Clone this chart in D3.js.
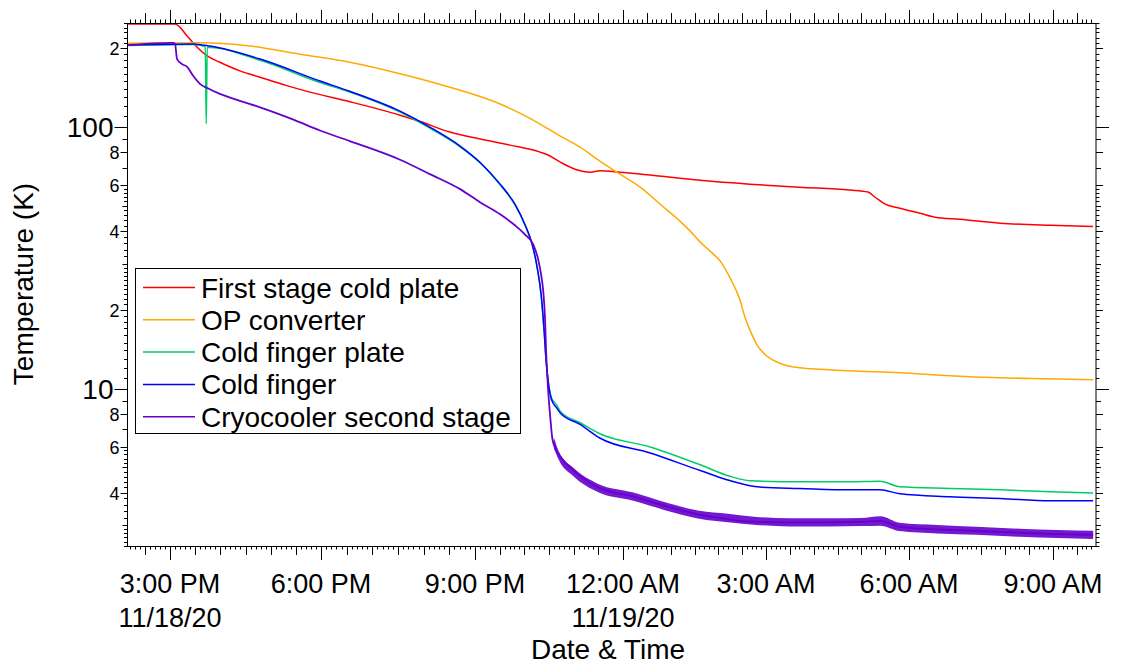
<!DOCTYPE html>
<html>
<head>
<meta charset="utf-8">
<script src="https://cdn.jsdelivr.net/npm/d3@7"></script>
<style>
  body { margin: 0; background: #fff; }
  svg { display: block; }
  text { font-family: "Liberation Sans", Arial, sans-serif; fill: #000; }
</style>
</head>
<body>
<svg id="chart" width="1138" height="664"></svg>
<script>
// ---- Data: time in hours since 00:00 on 11/18/20, temperature in kelvin ----
const seriesNames = ["First stage cold plate", "OP converter", "Cold finger plate", "Cold finger", "Cryocooler second stage"];
const seriesColors = ["#ff0000", "#ffaa00", "#00cc66", "#0000ff", "#6600cc"];

const redHours = [14.17, 15.1, 15.34, 15.54, 15.74, 15.99, 16.39, 16.79, 17.32, 17.78, 18.56, 19.54, 19.93, 20.51, 21.1, 21.71, 22.32, 22.49, 22.73, 23.03, 23.34, 23.53, 23.94, 24.57, 25.62, 26.66, 27.71, 28.76, 29.14, 29.29, 29.5, 29.81, 30.23, 30.54, 31.06, 31.9, 32.94, 33.84];
const redKelvin = [248, 248, 223, 202, 187, 177, 164, 155, 144, 136, 125, 111, 105, 95.7, 90, 85.3, 80.2, 78, 73.4, 69, 67.2, 68, 67.2, 65.5, 62.6, 60.5, 58.9, 57.4, 56.4, 53.9, 50.7, 48.9, 46.8, 45.2, 44.4, 42.9, 42.1, 41.7];

const orangeHours = [14.17, 15.6, 16.59, 17.58, 18.56, 19.54, 20.51, 21.51, 21.91, 22.32, 22.73, 23.13, 23.53, 23.94, 24.36, 24.78, 25.2, 25.41, 25.62, 25.83, 26.04, 26.24, 26.45, 26.56, 26.66, 26.81, 26.98, 27.29, 27.71, 28.76, 29.81, 30.85, 31.9, 32.94, 33.84];
const orangeKelvin = [209, 210, 204, 190, 177, 160, 142, 122.5, 113, 102.7, 92.4, 83.8, 74.1, 66.1, 58.9, 50.7, 43.6, 40, 36.3, 33.5, 30.7, 26.6, 21.9, 18.7, 16.8, 14.7, 13.5, 12.5, 12.0, 11.7, 11.5, 11.2, 11.0, 10.9, 10.8];

const greenHours = [14.17, 15.46, 15.7, 15.72, 15.74, 16.79, 17.98, 18.56, 19.54, 20.12, 20.71, 21.1, 21.51, 21.81, 22.01, 22.16, 22.26, 22.34, 22.4, 22.44, 22.49, 22.55, 22.65, 22.73, 23.13, 23.53, 24.57, 25.62, 26.24, 26.66, 27.71, 28.76, 29.39, 29.81, 30.85, 31.9, 32.94, 33.84];
const greenKelvin = [205, 207, 203, 103, 202, 180, 148, 136, 114, 99, 84, 73, 60, 50.4, 42.3, 35.4, 29, 22.8, 16.7, 12.8, 10.5, 9.23, 8.68, 8.18, 7.4, 6.72, 5.98, 5.11, 4.62, 4.44, 4.40, 4.40, 4.42, 4.21, 4.15, 4.10, 4.03, 3.99];

const blueHours = [14.17, 15.46, 15.8, 16.79, 17.98, 18.56, 19.54, 20.12, 20.71, 21.1, 21.51, 21.81, 22.01, 22.16, 22.26, 22.34, 22.4, 22.44, 22.49, 22.55, 22.65, 22.73, 23.13, 23.53, 24.57, 25.62, 26.24, 26.87, 27.71, 28.76, 29.39, 29.81, 30.85, 31.9, 32.94, 33.84];
const blueKelvin = [206, 208, 204, 182, 150, 137, 115, 100, 84.6, 73.4, 60.5, 50.7, 42.5, 35.6, 29.1, 22.9, 16.8, 12.9, 10.4, 9.08, 8.46, 8.07, 7.3, 6.47, 5.67, 4.86, 4.45, 4.2, 4.15, 4.1, 4.1, 3.96, 3.86, 3.8, 3.72, 3.72];

const purpleHours = [14.17, 15.06, 15.1, 15.14, 15.24, 15.34, 15.46, 15.6, 15.74, 15.99, 16.39, 16.79, 17.44, 17.98, 18.56, 19.54, 20.12, 20.71, 21.1, 21.51, 21.81, 22.01, 22.18, 22.28, 22.34, 22.38, 22.42, 22.44, 22.47, 22.53, 22.57, 22.65, 22.73, 23.06, 23.53, 24.21, 24.92, 25.62, 26.04, 26.45, 27.29, 28.13, 28.97, 29.39, 29.81, 30.85, 31.9, 32.94, 33.84];
const purpleKelvin = [206, 210, 208, 182, 174, 170, 157, 146, 141, 134, 126, 119, 107, 97, 88.4, 75, 66.1, 57.9, 51.6, 46.4, 42.1, 38.9, 35.6, 31.2, 27.3, 23.9, 18.4, 14.1, 10.8, 7.6, 6.4, 5.8, 5.5, 4.75, 4.16, 3.87, 3.54, 3.29, 3.2, 3.12, 3.08, 3.08, 3.09, 3.12, 2.96, 2.88, 2.83, 2.78, 2.76];

// Scatter range of the second-stage sensor after the fast drop (low / high readings)
const purpleBandHours = [22.6, 22.7, 23.0, 23.5, 24.2, 24.9, 25.6, 26.2, 26.8, 27.5, 28.3, 29.0, 29.4, 29.8, 30.6, 31.4, 32.3, 33.1, 33.84];
const purpleBandLow  = [5.9, 5.33, 4.61, 4.01, 3.73, 3.42, 3.18, 3.08, 3.01, 2.97, 2.97, 2.98, 2.99, 2.85, 2.79, 2.76, 2.71, 2.68, 2.66];
const purpleBandHigh = [6.5, 5.75, 4.97, 4.32, 4.01, 3.67, 3.41, 3.32, 3.23, 3.19, 3.19, 3.20, 3.25, 3.07, 3.01, 2.96, 2.91, 2.88, 2.86];

// Axis settings
const tempDomain = [2.5, 250];
const majorLabelHours = [15, 18, 21, 24, 27, 30, 33];
const dateLineHours = [15, 24];

// ---- Layout ----
const plot = { left: 127.5, right: 1096, top: 23, bottom: 546 };
const xKnotHours = [14.1667, 15, 18, 21, 24, 27, 30, 33, 33.9];
const xKnotPx = [128, 170, 321, 475, 623, 766, 909, 1053, 1096];

const base = new Date(2020, 10, 18, 0, 0, 0);
const toDate = h => new Date(base.getTime() + h * 3600000);

const x = d3.scaleTime().domain(xKnotHours.map(toDate)).range(xKnotPx);
const y = d3.scaleLog().domain(tempDomain).range([plot.bottom, plot.top]);

const svg = d3.select("#chart");

svg.append("defs").append("clipPath").attr("id", "plotClip")
  .append("rect")
  .attr("x", plot.left).attr("y", plot.top)
  .attr("width", plot.right - plot.left).attr("height", plot.bottom - plot.top);

// ---- Time ticks (6 min minor, 30 min medium, 3 h major) ----
const xDom = [x.domain()[0], x.domain()[x.domain().length - 1]];
const timeTicks = d3.timeMinute.every(6).range(xDom[0], xDom[1]);
function timeTickKind(d) {
  const h = d.getHours(), m = d.getMinutes();
  if (m === 0 && h % 3 === 0) return 2;
  if (m % 30 === 0) return 1;
  return 0;
}
const bottomLen = [3.5, 9, 14];
const topLen = [3.5, 10, 13];
const tickG = svg.append("g").attr("stroke", "#000").attr("stroke-width", 1);
timeTicks.forEach(d => {
  const k = timeTickKind(d);
  const px = Math.round(x(d)) + 0.5;
  tickG.append("line").attr("x1", px).attr("x2", px)
    .attr("y1", plot.bottom).attr("y2", plot.bottom + bottomLen[k]);
  tickG.append("line").attr("x1", px).attr("x2", px)
    .attr("y1", plot.top).attr("y2", plot.top - topLen[k]);
});

// ---- Temperature ticks (log axis) ----
const yTickList = [];
[1, 10, 100].forEach(dec => {
  const mant = [];
  for (let i = 10; i < 30; i += 1) mant.push(i / 10);
  for (let i = 30; i < 60; i += 2) mant.push(i / 10);
  for (let i = 6; i < 10; i += 1) mant.push(i);
  mant.forEach(m => {
    const v = +(m * dec).toFixed(6);
    if (v >= tempDomain[0] - 1e-9 && v <= tempDomain[1] + 1e-9) yTickList.push({ v, m });
  });
});
function yKind(m) {
  if (Math.abs(m - 1) < 1e-9) return 3;
  if ([2, 4, 6, 8].some(q => Math.abs(m - q) < 1e-9)) return 2;
  if (Math.abs(m - Math.round(m)) < 1e-9) return 1;
  return 0;
}
const yLen = [3.5, 5, 7, 13];
yTickList.forEach(t => {
  const k = yKind(t.m);
  const py = Math.round(y(t.v)) + 0.5;
  tickG.append("line").attr("x1", plot.left - yLen[k]).attr("x2", plot.left).attr("y1", py).attr("y2", py);
  tickG.append("line").attr("x1", plot.right).attr("x2", plot.right + yLen[k]).attr("y1", py).attr("y2", py);
  if (k === 3) {
    svg.append("text").attr("x", plot.left - 14).attr("y", py).attr("dy", "0.35em")
      .attr("text-anchor", "end").attr("font-size", 28).text(d3.format("d")(t.v));
  } else if (k === 2) {
    svg.append("text").attr("x", plot.left - 8).attr("y", py).attr("dy", "0.36em")
      .attr("text-anchor", "end").attr("font-size", 18).text(String(Math.round(t.m)));
  }
});

// ---- Series ----
const line = d3.line().curve(d3.curveMonotoneX)
  .x(d => x(toDate(d[0]))).y(d => y(d[1]));
const lineG = svg.append("g").attr("clip-path", "url(#plotClip)").attr("fill", "none")
  .attr("stroke-linejoin", "round");

const series = [
  [redHours, redKelvin, 1.5],
  [orangeHours, orangeKelvin, 1.5],
  [greenHours, greenKelvin, 1.5],
  [blueHours, blueKelvin, 1.5],
  [purpleHours, purpleKelvin, 1.8]
];
series.forEach((s, i) => {
  if (i === 4) {
    const band = d3.area().curve(d3.curveMonotoneX)
      .x(d => x(toDate(d[0]))).y0(d => y(d[1])).y1(d => y(d[2]));
    lineG.append("path")
      .datum(purpleBandHours.map((h, j) => [h, purpleBandLow[j], purpleBandHigh[j]]))
      .attr("d", band).attr("fill", seriesColors[4]).attr("fill-opacity", 0.9)
      .attr("stroke", "none");
  }
  lineG.append("path")
    .datum(s[0].map((h, j) => [h, s[1][j]]))
    .attr("d", line).attr("stroke", seriesColors[i]).attr("stroke-width", s[2]);
});

// ---- Frame ----
svg.append("rect")
  .attr("x", plot.left).attr("y", plot.top + 0.5)
  .attr("width", plot.right - plot.left).attr("height", plot.bottom - plot.top)
  .attr("fill", "none").attr("stroke", "#000").attr("stroke-width", 1);

// ---- Time labels ----
const fmtTime = d3.timeFormat("%-I:%M %p");
const fmtDate = d3.timeFormat("%m/%d/%y");
majorLabelHours.forEach(h => {
  const d = toDate(h);
  const px = x(d);
  svg.append("text").attr("x", px).attr("y", 593).attr("text-anchor", "middle")
    .attr("font-size", 27).text(fmtTime(d));
  if (dateLineHours.includes(h)) {
    svg.append("text").attr("x", px).attr("y", 627).attr("text-anchor", "middle")
      .attr("font-size", 27).text(fmtDate(d));
  }
});

// ---- Axis titles ----
svg.append("text").attr("x", 608).attr("y", 659).attr("text-anchor", "middle")
  .attr("font-size", 28).text("Date & Time");
svg.append("text").attr("transform", "translate(33,284) rotate(-90)")
  .attr("text-anchor", "middle").attr("font-size", 28).text("Temperature (K)");

// ---- Legend ----
const lg = svg.append("g");
lg.append("rect").attr("x", 135.5).attr("y", 268.5).attr("width", 385).attr("height", 165)
  .attr("fill", "#fff").attr("stroke", "#000").attr("stroke-width", 1);
seriesNames.forEach((name, i) => {
  const ly = 287.5 + i * 32.3;
  lg.append("line").attr("x1", 143).attr("x2", 195).attr("y1", ly).attr("y2", ly)
    .attr("stroke", seriesColors[i]).attr("stroke-width", 1.5);
  lg.append("text").attr("x", 201).attr("y", ly + 10).attr("font-size", 28).text(name);
});
</script>
</body>
</html>
